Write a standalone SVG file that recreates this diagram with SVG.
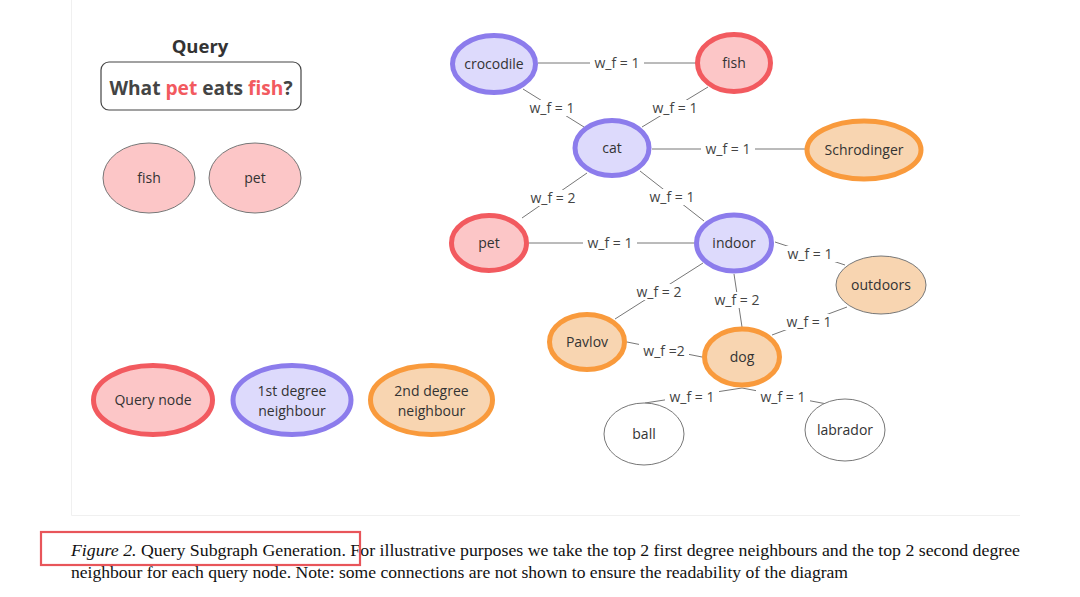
<svg xmlns="http://www.w3.org/2000/svg" width="1080" height="597" viewBox="0 0 1080 597">
<style>
text{font-family:"Open Sans","Noto Sans",sans-serif;}
.nt{font-size:14px;fill:#333;text-anchor:middle;}
.lb{font-size:14px;fill:#444;text-anchor:middle;}
.q{fill:#fcc6c7;stroke:#f25a5f;stroke-width:5;}
.f{fill:#dddafc;stroke:#8c7cec;stroke-width:5;}
.s{fill:#f8d5b1;stroke:#f99a3c;stroke-width:5;}
.tq{fill:#fcc6c7;stroke:#777;stroke-width:1;}
.ts{fill:#f8d5b1;stroke:#777;stroke-width:1;}
.tw{fill:#fff;stroke:#777;stroke-width:1;}
.e{stroke:#777;stroke-width:1;fill:none;}
.bg{fill:#fff;}
.cap{font-family:"Liberation Serif","Times New Roman",serif;font-size:16px;fill:#111;}
</style>
<rect width="1080" height="597" fill="#fff"/>
<g id="panel"><path d="M71.5 0V515.5H1020" fill="none" stroke="#f0f0f0" stroke-width="1"/></g>

<g id="query">
<text x="200" y="53" style="font-size:18.5px;font-weight:bold;fill:#333;text-anchor:middle">Query</text>
<rect x="101" y="62" width="200" height="48" rx="8" fill="#fff" stroke="#444" stroke-width="1.2"/>
<text x="201" y="94.5" style="font-size:19.2px;font-weight:bold;fill:#444;text-anchor:middle">What <tspan fill="#f25a5f">pet</tspan> eats <tspan fill="#f25a5f">fish</tspan>?</text>
</g>
<g id="q-fish"><ellipse cx="149" cy="178" rx="46" ry="35" class="tq"/><text x="149" y="183" class="nt">fish</text></g>
<g id="q-pet"><ellipse cx="255" cy="178" rx="46" ry="35" class="tq"/><text x="255" y="183" class="nt">pet</text></g>

<g id="connectors">
<line class="e" x1="538" y1="63" x2="696" y2="63"/>
<line class="e" x1="523" y1="89" x2="584" y2="127"/>
<line class="e" x1="708" y1="87" x2="642" y2="127"/>
<line class="e" x1="652" y1="149" x2="805" y2="149"/>
<line class="e" x1="587" y1="173" x2="522" y2="218"/>
<line class="e" x1="640" y1="171" x2="704" y2="221"/>
<line class="e" x1="529" y1="243" x2="694" y2="243"/>
<line class="e" x1="775" y1="242" x2="845" y2="265"/>
<line class="e" x1="703" y1="263" x2="615" y2="319"/>
<line class="e" x1="734" y1="274" x2="742" y2="327"/>
<line class="e" x1="847" y1="307" x2="772" y2="335"/>
<line class="e" x1="627" y1="342" x2="702" y2="357"/>
<line class="e" x1="645" y1="403" x2="742" y2="388"/>
<line class="e" x1="742" y1="388" x2="827" y2="404"/>
<g>
<rect class="bg" x="590" y="55" width="54" height="16"/><text class="lb" x="617" y="68">w_f = 1</text>
<rect class="bg" x="525" y="100" width="54" height="16"/><text class="lb" x="552" y="113">w_f = 1</text>
<rect class="bg" x="648" y="100" width="54" height="16"/><text class="lb" x="675" y="113">w_f = 1</text>
<rect class="bg" x="701" y="141" width="54" height="16"/><text class="lb" x="728" y="154">w_f = 1</text>
<rect class="bg" x="526" y="190" width="54" height="16"/><text class="lb" x="553" y="203">w_f = 2</text>
<rect class="bg" x="645" y="189" width="54" height="16"/><text class="lb" x="672" y="202">w_f = 1</text>
<rect class="bg" x="583" y="235" width="54" height="16"/><text class="lb" x="610" y="248">w_f = 1</text>
<rect class="bg" x="783" y="246" width="54" height="16"/><text class="lb" x="810" y="259">w_f = 1</text>
<rect class="bg" x="632" y="284" width="54" height="16"/><text class="lb" x="659" y="297">w_f = 2</text>
<rect class="bg" x="710" y="292" width="54" height="16"/><text class="lb" x="737" y="305">w_f = 2</text>
<rect class="bg" x="782" y="314" width="54" height="16"/><text class="lb" x="809" y="327">w_f = 1</text>
<rect class="bg" x="639" y="343" width="50" height="16"/><text class="lb" x="664" y="356">w_f =2</text>
<rect class="bg" x="665" y="389" width="54" height="16"/><text class="lb" x="692" y="402">w_f = 1</text>
<rect class="bg" x="756" y="389" width="54" height="16"/><text class="lb" x="783" y="402">w_f = 1</text>
</g>
</g>

<g id="crocodile"><ellipse cx="494" cy="64" rx="41.5" ry="28.5" class="f"/><text x="494" y="69" class="nt">crocodile</text></g>
<g id="fish"><ellipse cx="734" cy="63" rx="36.5" ry="28.5" class="q"/><text x="734" y="68" class="nt">fish</text></g>
<g id="cat"><ellipse cx="612" cy="148" rx="37" ry="27.5" class="f"/><text x="612" y="153" class="nt">cat</text></g>
<g id="schrodinger"><ellipse cx="864" cy="150" rx="57" ry="29" class="s"/><text x="864" y="155" class="nt">Schrodinger</text></g>
<g id="pet"><ellipse cx="489" cy="243" rx="37.5" ry="27.5" class="q"/><text x="489" y="248" class="nt">pet</text></g>
<g id="indoor"><ellipse cx="734" cy="243" rx="37.5" ry="28" class="f"/><text x="734" y="248" class="nt">indoor</text></g>
<g id="outdoors"><ellipse cx="881" cy="285" rx="45" ry="29" class="ts"/><text x="881" y="290" class="nt">outdoors</text></g>
<g id="pavlov"><ellipse cx="587" cy="342" rx="37.5" ry="27.5" class="s"/><text x="587" y="347" class="nt">Pavlov</text></g>
<g id="dog"><ellipse cx="742" cy="357" rx="37.5" ry="28" class="s"/><text x="742" y="362" class="nt">dog</text></g>
<g id="ball"><ellipse cx="644" cy="434" rx="40" ry="31" class="tw"/><text x="644" y="439" class="nt">ball</text></g>
<g id="labrador"><ellipse cx="845" cy="430" rx="40" ry="31" class="tw"/><text x="845" y="435" class="nt">labrador</text></g>

<g id="legend-query"><ellipse cx="153" cy="400" rx="59.5" ry="34.5" class="q"/><text x="153" y="405" class="nt">Query node</text></g>
<g id="legend-first"><ellipse cx="292" cy="400" rx="59" ry="34.5" class="f"/><text x="292" y="396" class="nt">1st degree</text><text x="292" y="416" class="nt">neighbour</text></g>
<g id="legend-second"><ellipse cx="431.5" cy="400" rx="61" ry="34.5" class="s"/><text x="431.5" y="396" class="nt">2nd degree</text><text x="431.5" y="416" class="nt">neighbour</text></g>

<g id="caption">
<text class="cap" x="71" y="556" textLength="949" lengthAdjust="spacingAndGlyphs"><tspan font-style="italic">Figure 2.</tspan> Query Subgraph Generation. For illustrative purposes we take the top 2 first degree neighbours and the top 2 second degree</text>
<text class="cap" x="71" y="578" textLength="777" lengthAdjust="spacingAndGlyphs">neighbour for each query node. Note: some connections are not shown to ensure the readability of the diagram</text>
<rect x="41" y="532" width="319" height="33" fill="none" stroke="#e8555a" stroke-width="2.2"/>
</g>
</svg>
